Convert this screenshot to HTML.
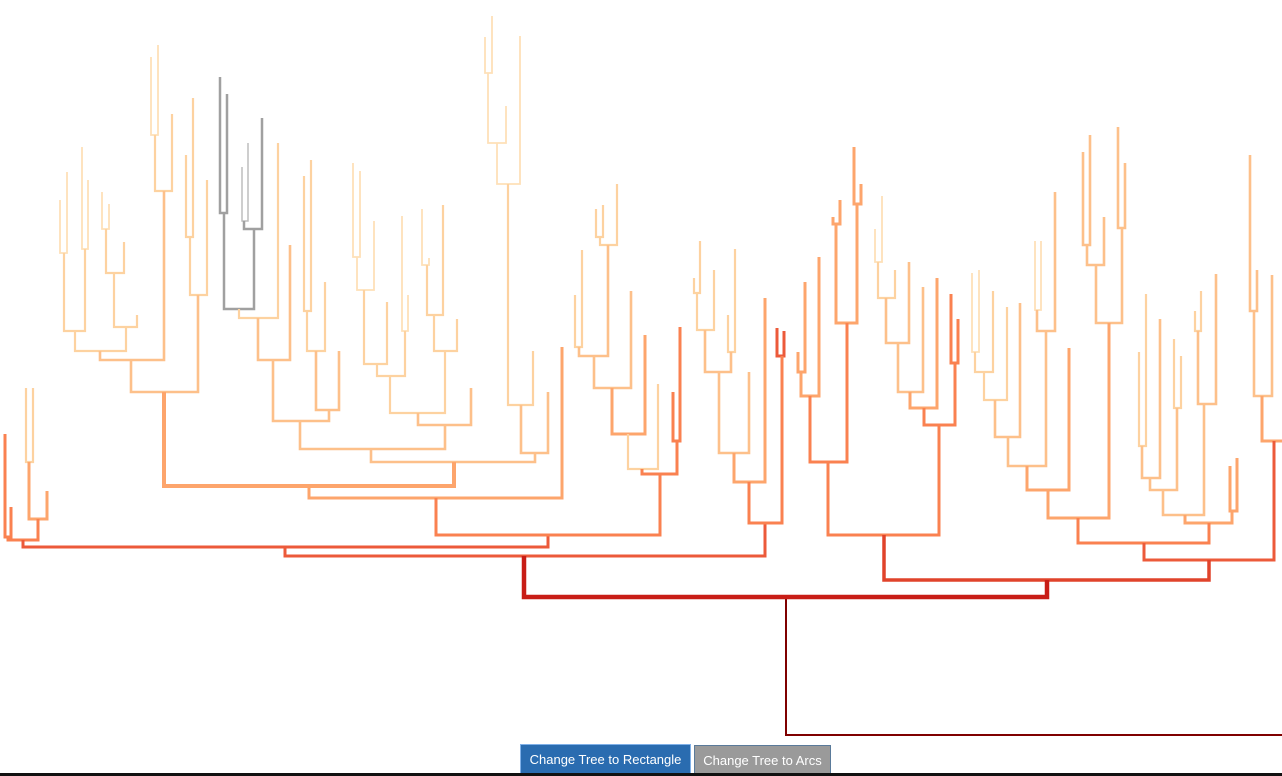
<!DOCTYPE html>
<html><head><meta charset="utf-8"><style>
html,body{margin:0;padding:0;background:#fff;width:1282px;height:776px;overflow:hidden;position:relative;font-family:"Liberation Sans",sans-serif}
svg{position:absolute;left:0;top:0}
path{fill:none;stroke-linejoin:miter;stroke-linecap:butt}
.c0{stroke:#fee0b8;stroke-width:1.8}
.c1{stroke:#fdd2a0;stroke-width:2.2}
.c2{stroke:#fdc08a;stroke-width:2.6}
.c3{stroke:#fda56c;stroke-width:3}
.c4{stroke:#fa8150;stroke-width:3}
.c5{stroke:#ec5a3a;stroke-width:3}
.c6{stroke:#e0432b;stroke-width:3.5}
.c7{stroke:#c81d16;stroke-width:4.5}
.g{stroke:#a0a0a0;stroke-width:2.5}
.gl{stroke:#bdbdbd;stroke-width:1.5}
.btn{position:absolute;color:#fff;font-size:13px;text-align:center;box-sizing:border-box}
</style></head><body>
<svg width="1282" height="776" viewBox="0 0 1282 776">
<path d="M786 597V735H1282" style="stroke:#7f0000;stroke-width:2"/>
<path class="c4" d="M5 434V537H11V507"/>
<path class="c1" d="M26 388V462H33V388"/>
<path class="c3" d="M29 462V519H47V491"/>
<path class="c4" d="M8 537V540H38V519"/>
<path class="c5" d="M23 540V547H548V536"/>
<path class="c5" d="M285 547V556H765V523"/>
<path class="c0" d="M60 200V253H67V172"/>
<path class="c0" d="M82 147V249H88V180"/>
<path class="c1" d="M64 253V331H85V249"/>
<path class="c0" d="M102 192V229H109V204"/>
<path class="c1" d="M106 229V273H124V242"/>
<path class="c1" d="M114 273V327H137V315"/>
<path class="c1" d="M75 331V351H126V327"/>
<path class="c0" d="M151 57V135H158V45"/>
<path class="c1" d="M155 135V191H172V114"/>
<path class="c2" d="M100 351V360H164V191"/>
<path class="c1" d="M186 155V237H193V98"/>
<path class="c1" d="M190 237V295H207V180"/>
<path class="c2" d="M131 360V392H198V295"/>
<path class="g" d="M220 77V213H227V94"/>
<path class="gl" d="M242 167V221H248V143"/>
<path class="g" d="M244 221V229H262V118"/>
<path class="g" d="M224 213V309H254V229"/>
<path class="c1" d="M239 309V318H278V143"/>
<path class="c2" d="M258 318V360H290V245"/>
<path class="c1" d="M304 176V311H311V160"/>
<path class="c1" d="M307 311V351H325V282"/>
<path class="c2" d="M316 351V410H339V351"/>
<path class="c2" d="M273 360V421H329V410"/>
<path class="c0" d="M353 163V257H360V171"/>
<path class="c0" d="M357 257V290H374V221"/>
<path class="c1" d="M364 290V364H387V302"/>
<path class="c0" d="M402 216V331H408V295"/>
<path class="c1" d="M377 364V376H405V331"/>
<path class="c0" d="M422 209V265H429V258"/>
<path class="c1" d="M427 265V315H443V205"/>
<path class="c1" d="M434 315V351H457V319"/>
<path class="c1" d="M390 376V413H445V351"/>
<path class="c2" d="M418 413V425H471V388"/>
<path class="c2" d="M300 421V449H445V425"/>
<path class="c0" d="M485 37V73H492V16"/>
<path class="c0" d="M488 73V143H506V106"/>
<path class="c0" d="M497 143V184H520V36"/>
<path class="c1" d="M508 184V405H533V351"/>
<path class="c2" d="M521 405V453H548V392"/>
<path class="c2" d="M371 449V462H535V453"/>
<path class="c3" style="stroke-width:4" d="M164 392V486H454V462"/>
<path class="c3" d="M309 486V498H562V347"/>
<path class="c1" d="M575 295V347H582V250"/>
<path class="c1" d="M596 209V237H603V205"/>
<path class="c1" d="M600 237V245H617V184"/>
<path class="c2" d="M579 347V356H608V245"/>
<path class="c2" d="M594 356V388H631V291"/>
<path class="c3" d="M612 388V434H645V335"/>
<path class="c1" d="M628 434V469H658V384"/>
<path class="c4" d="M673 392V441H680V327"/>
<path class="c4" d="M642 469V474H677V441"/>
<path class="c4" d="M436 498V535H660V474"/>
<path class="c1" d="M694 278V293H700V241"/>
<path class="c1" d="M697 293V330H714V270"/>
<path class="c1" d="M728 315V352H735V249"/>
<path class="c2" d="M705 330V372H731V352"/>
<path class="c2" d="M719 372V453H749V372"/>
<path class="c3" d="M734 453V482H765V298"/>
<path class="c5" d="M777 328V356H784V331"/>
<path class="c4" d="M749 482V523H782V356"/>
<path class="c3" d="M798 352V372H805V282"/>
<path class="c3" d="M801 372V396H819V257"/>
<path class="c3" d="M833 217V224H840V200"/>
<path class="c3" d="M854 147V204H861V184"/>
<path class="c3" d="M836 224V323H857V204"/>
<path class="c4" d="M810 396V462H847V323"/>
<path class="c0" d="M875 229V262H882V196"/>
<path class="c1" d="M878 262V298H895V270"/>
<path class="c2" d="M886 298V343H909V262"/>
<path class="c2" d="M898 343V392H923V287"/>
<path class="c3" d="M910 392V408H937V278"/>
<path class="c4" d="M951 294V363H958V319"/>
<path class="c4" d="M924 408V425H955V363"/>
<path class="c4" d="M828 462V535H939V425"/>
<path class="c2" d="M1083 152V245H1090V135"/>
<path class="c2" d="M1087 245V265H1104V217"/>
<path class="c2" d="M1118 127V228H1125V163"/>
<path class="c2" d="M1096 265V323H1122V228"/>
<path class="c0" d="M972 273V352H979V270"/>
<path class="c1" d="M975 352V372H993V291"/>
<path class="c1" d="M984 372V400H1007V307"/>
<path class="c2" d="M995 400V437H1020V303"/>
<path class="c0" d="M1035 241V310H1041V241"/>
<path class="c2" d="M1037 310V331H1055V192"/>
<path class="c2" d="M1008 437V466H1046V331"/>
<path class="c3" d="M1027 466V490H1069V348"/>
<path class="c3" d="M1048 490V518H1109V323"/>
<path class="c1" d="M1139 352V446H1146V294"/>
<path class="c2" d="M1142 446V478H1160V319"/>
<path class="c1" d="M1174 339V408H1181V356"/>
<path class="c2" d="M1150 478V490H1177V408"/>
<path class="c1" d="M1195 311V331H1201V291"/>
<path class="c2" d="M1198 331V404H1216V274"/>
<path class="c2" d="M1163 490V515H1204V404"/>
<path class="c3" d="M1230 466V511H1237V458"/>
<path class="c3" d="M1185 515V523H1232V511"/>
<path class="c4" d="M1078 518V543H1209V523"/>
<path class="c2" d="M1250 155V311H1257V270"/>
<path class="c2" d="M1254 311V396H1272V275"/>
<path class="c3" d="M1262 396V441H1284"/>
<path class="c5" d="M1144 543V560H1274V441"/>
<path class="c6" d="M884 535V580H1209V560"/>
<path class="c7" d="M524 556V597H1047V580"/>
</svg>
<div class="btn" style="left:520px;top:744px;width:171px;height:30px;line-height:30px;background:#2a6cb0;border:1px solid #7fb0e8">Change Tree to Rectangle</div>
<div class="btn" style="left:694px;top:745px;width:137px;height:29px;line-height:29px;background:#9a9a9a;border:1px solid #5a7a9a">Change Tree to Arcs</div>
<div style="position:absolute;left:0;top:773px;width:1282px;height:3px;background:#111"></div>
</body></html>
